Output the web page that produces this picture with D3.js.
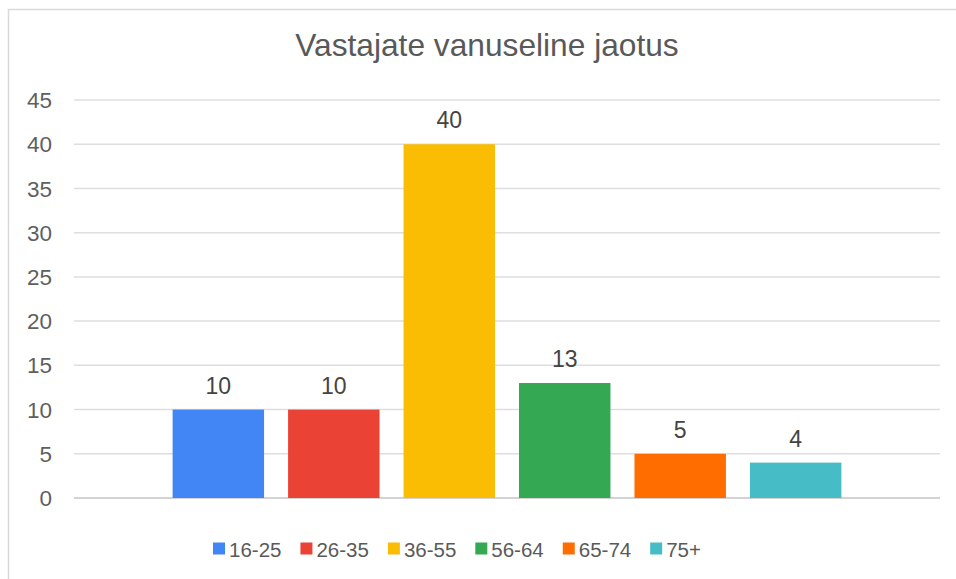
<!doctype html>
<html lang="et">
<head>
    <meta charset="utf-8">
    <script src="https://d3js.org/d3.v7.min.js"></script>
    <style>
        html, body {
            margin: 0;
            padding: 0;
            background: #fff;
        }
        svg text {
            font-family: "Liberation Sans", Arial, sans-serif;
        }
    </style>
</head>
<body>
<svg id="svg" width="956" height="579"></svg>
<script>
    // data
    var ageGroups = ["16-25", "26-35", "36-55", "56-64", "65-74", "75+"];
    var counts = [10, 10, 40, 13, 5, 4];
    var colors = ["#4285F4", "#EA4335", "#FBBC04", "#34A853", "#FF6D01", "#46BDC6"];
    var yTicks = [0, 5, 10, 15, 20, 25, 30, 35, 40, 45];
    var title = "Vastajate vanuseline jaotus";

    var svg = d3.select("#svg");

    // chart frame (only top and left edges show)
    svg.append("rect")
        .attr("x", 8.5)
        .attr("y", 9.5)
        .attr("width", 1000)
        .attr("height", 1000)
        .attr("fill", "none")
        .attr("stroke", "#d9d9d9")
        .attr("stroke-width", 1.5);

    // plot area (window.top is reserved, so use other names)
    var plotLeft = 74, plotRight = 940, plotTop = 100, plotBottom = 498;

    var y = d3.scaleLinear().domain([0, 45]).range([plotBottom, plotTop]);

    // one category holding six series, like a clustered column chart
    var x0 = d3.scaleBand().domain([""]).range([plotLeft, plotRight]).paddingOuter(0.125);
    var x1 = d3.scaleBand().domain(ageGroups)
        .range([x0(""), x0("") + x0.bandwidth()])
        .paddingInner(0.208).paddingOuter(0.104);

    // gridlines
    svg.append("g")
        .selectAll("line")
        .data(yTicks)
        .enter().append("line")
        .attr("x1", plotLeft)
        .attr("x2", plotRight)
        .attr("y1", function (d) { return y(d); })
        .attr("y2", function (d) { return y(d); })
        .attr("stroke", function (d) { return d === 0 ? "#d3d3d3" : "#dedede"; })
        .attr("stroke-width", function (d) { return d === 0 ? 2 : 1.5; });

    // y tick labels
    svg.append("g")
        .selectAll("text")
        .data(yTicks)
        .enter().append("text")
        .attr("x", 52)
        .attr("y", function (d) { return y(d); })
        .attr("dy", "0.36em")
        .attr("text-anchor", "end")
        .attr("font-size", 22.5)
        .attr("fill", "#5f5f5f")
        .text(function (d) { return d; });

    // bars
    var bars = ageGroups.map(function (g, i) { return {group: g, value: counts[i], color: colors[i]}; });

    svg.append("g")
        .selectAll("rect")
        .data(bars)
        .enter().append("rect")
        .attr("x", function (d) { return x1(d.group); })
        .attr("y", function (d) { return y(d.value); })
        .attr("width", x1.bandwidth())
        .attr("height", function (d) { return y(0) - y(d.value); })
        .attr("fill", function (d) { return d.color; });

    // value labels
    svg.append("g")
        .selectAll("text")
        .data(bars)
        .enter().append("text")
        .attr("x", function (d) { return x1(d.group) + x1.bandwidth() / 2; })
        .attr("y", function (d) { return y(d.value) - 16; })
        .attr("text-anchor", "middle")
        .attr("font-size", 23)
        .attr("fill", "#444444")
        .text(function (d) { return d.value; });

    // title
    svg.append("text")
        .attr("x", 487)
        .attr("y", 56)
        .attr("text-anchor", "middle")
        .attr("font-size", 31.7)
        .attr("fill", "#595959")
        .text(title);

    // legend
    var legend = svg.append("g");
    var lx = 213;
    bars.forEach(function (d) {
        legend.append("rect")
            .attr("x", lx)
            .attr("y", 542.5)
            .attr("width", 12)
            .attr("height", 12)
            .attr("fill", d.color);
        var t = legend.append("text")
            .attr("x", lx + 16)
            .attr("y", 556.5)
            .attr("font-size", 20.5)
            .attr("fill", "#5a5a5a")
            .text(d.group);
        lx += 16 + t.node().getComputedTextLength() + 19;
    });
</script>
</body>
</html>
